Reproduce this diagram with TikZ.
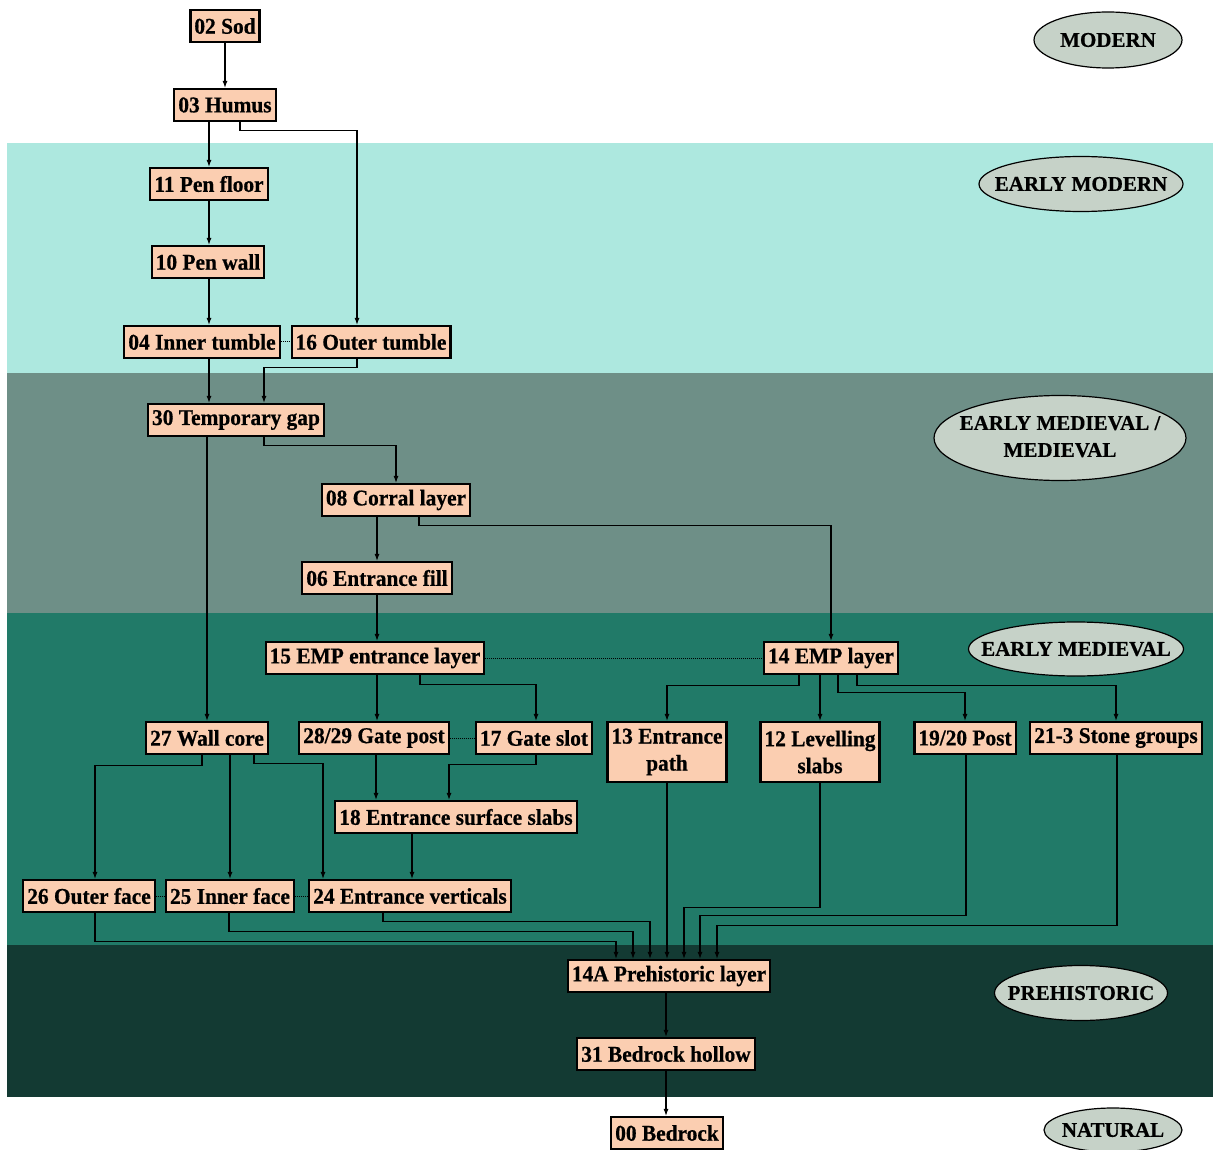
\documentclass[tikz,border=0pt]{standalone}
\usepackage{fontspec}
\newfontfamily\ctxfont{Liberation Serif Bold}[FakeStretch=0.95,FakeBold=0.6]
\newfontfamily\periodfont{Liberation Serif Bold}[FakeBold=0.5]
\usepackage{tikz}
\usetikzlibrary{arrows.meta,positioning,shapes.geometric}
\definecolor{peach}{HTML}{FBCEB1}
\definecolor{ovalgray}{HTML}{C6D2C8}
\definecolor{earlymodband}{HTML}{ADE8DF}
\definecolor{medband}{HTML}{6E8F87}
\definecolor{earlymedband}{HTML}{217A68}
\definecolor{prehistband}{HTML}{133A33}
\newcommand{\nowidth}[1]{\hbox to 0pt{\hss#1\hss}}

\begin{document}
\begin{tikzpicture}[x=1pt,y=-1pt,>={Latex[length=7pt,width=5pt]},
  box/.style={draw,line width=2.2pt,fill=peach,inner xsep=4pt,inner ysep=3pt,
              minimum height=32pt,align=center,
              font=\fontsize{22.5}{27}\ctxfont},
  tallbox/.style={box,minimum height=60pt},
  period/.style={ellipse,draw,line width=1.2pt,fill=ovalgray,inner sep=0pt,
              font=\fontsize{21}{27}\periodfont},
  flow/.style={->,line width=1.1pt},
  link/.style={line width=1pt,densely dotted}]
\useasboundingbox (0,0) rectangle (1213,1150);
% period bands
\fill[earlymodband] (7,143) rectangle (1213,373);
\fill[medband] (7,373) rectangle (1213,613);
\fill[earlymedband] (7,613) rectangle (1213,945);
\fill[prehistband] (7,945) rectangle (1213,1097);
% period labels
\node[period,minimum width=148pt,minimum height=56pt] (modern) at (1108,40) {\nowidth{MODERN}};
\node[period,minimum width=204pt,minimum height=55pt] (earlymod) at (1081,184) {\nowidth{EARLY MODERN}};
\node[period,minimum width=252pt,minimum height=85pt] (medieval) at (1060,438)
  {\nowidth{\begin{tabular}{@{}c@{}}EARLY MEDIEVAL /\\MEDIEVAL\end{tabular}}};
\node[period,minimum width=215pt,minimum height=54pt] (earlymed) at (1076,649) {\nowidth{EARLY MEDIEVAL}};
\node[period,minimum width=173pt,minimum height=55pt] (prehist) at (1081,993) {\nowidth{PREHISTORIC}};
\node[period,minimum width=138pt,minimum height=44pt] (natural) at (1113,1130) {\nowidth{NATURAL}};
% contexts
\node[box] (sod) at (225,26) {02 Sod};
\node[box] (humus) at (225,105) {03 Humus};
\node[box] (penfloor) at (209,184) {11 Pen floor};
\node[box] (penwall) at (208,262) {10 Pen wall};
\node[box] (innertumble) at (202,342) {04 Inner tumble};
\node[box] (outertumble) at (371,342) {16 Outer tumble};
\node[box] (tempgap) at (236,420) {30 Temporary gap};
\node[box] (corral) at (396,500) {08 Corral layer};
\node[box] (entfill) at (377,578) {06 Entrance fill};
\node[box] (empent) at (375,658) {15 EMP entrance layer};
\node[box] (emp) at (831,658) {14 EMP layer};
\node[box] (wallcore) at (207,738) {27 Wall core};
\node[box] (gatepost) at (374,738) {28/29 Gate post};
\node[box] (gateslot) at (534,738) {17 Gate slot};
\node[tallbox] (entpath) at (667,752) {13 Entrance\\path};
\node[tallbox] (levelling) at (820,752) {12 Levelling\\slabs};
\node[box] (post) at (965,738) {19/20 Post};
\node[box] (stones) at (1116,738) {21-3 Stone groups};
\node[box] (surface) at (456,817) {18 Entrance surface slabs};
\node[box] (outerface) at (89,896) {26 Outer face};
\node[box] (innerface) at (230,896) {25 Inner face};
\node[box] (verticals) at (410,896) {24 Entrance verticals};
\node[box] (prehistoric) at (669,976) {14A Prehistoric layer};
\node[box] (hollow) at (666,1054) {31 Bedrock hollow};
\node[box] (bedrock) at (667,1133) {00 Bedrock};
% equivalences
\draw[link] (innertumble) -- (outertumble);
\draw[link] (empent) -- (emp);
\draw[link] (gatepost) -- (gateslot);
\draw[link] (outerface) -- (innerface);
\draw[link] (innerface) -- (verticals);
% stratigraphic links
\draw[flow] (sod) -- (humus);
\draw[flow] (penfloor.north |- humus.south) -- (penfloor.north);
\draw[flow] ([xshift=15pt]humus.south) -- ++(0,8) -| ([xshift=-14pt]outertumble.north);
\draw[flow] (penfloor.south) -- (penfloor.south |- penwall.north);
\draw[flow] (penwall.south -| penfloor.south) -- (penfloor.south |- innertumble.north);
\draw[flow] ([xshift=7pt]innertumble.south) -- ([xshift=7pt]innertumble.south |- tempgap.north);
\draw[flow] ([xshift=-14pt]outertumble.south) -- ++(0,8) -| ([xshift=28pt]tempgap.north);
\draw[flow] ([xshift=28pt]tempgap.south) -- ++(0,8) -| (corral.north);
\draw[flow] (wallcore.north |- tempgap.south) -- (wallcore.north);
\draw[flow] (entfill.north |- corral.south) -- (entfill.north);
\draw[flow] ([xshift=23pt]corral.south) -- ++(0,8) -| (emp.north);
\draw[flow] (entfill.south) -- (entfill.south |- empent.north);
\draw[flow] ([xshift=2pt]empent.south) -- ([xshift=2pt]empent.south |- gatepost.north);
\draw[flow] ([xshift=45pt]empent.south) -- ++(0,9) -| ([xshift=2pt]gateslot.north);
\draw[flow] ([xshift=-32pt]emp.south) -- ++(0,10) -| (entpath.north);
\draw[flow] (levelling.north |- emp.south) -- (levelling.north);
\draw[flow] ([xshift=7pt]emp.south) -- ++(0,17) -| (post.north);
\draw[flow] ([xshift=26pt]emp.south) -- ++(0,10) -| (stones.north);
\draw[flow] ([xshift=-5pt]wallcore.south) -- ++(0,10) -| ([xshift=6pt]outerface.north);
\draw[flow] (innerface.north |- wallcore.south) -- (innerface.north);
\draw[flow] ([xshift=47pt]wallcore.south) -- ++(0,8) -| ([xshift=-87pt]verticals.north);
\draw[flow] ([xshift=2pt]gatepost.south) -- ([xshift=2pt]gatepost.south |- surface.north);
\draw[flow] ([xshift=2pt]gateslot.south) -- ++(0,9) -| ([xshift=-7pt]surface.north);
\draw[flow] ([xshift=-44pt]surface.south) -- ([xshift=-44pt]surface.south |- verticals.north);
\draw[flow] ([xshift=6pt]outerface.south) -- ++(0,28) -| ([xshift=-53pt]prehistoric.north);
\draw[flow] ([xshift=-1pt]innerface.south) -- ++(0,18) -| ([xshift=-36pt]prehistoric.north);
\draw[flow] ([xshift=-27pt]verticals.south) -- ++(0,8) -| ([xshift=-19pt]prehistoric.north);
\draw[flow] (entpath.south) -- (entpath.south |- prehistoric.north);
\draw[flow] (levelling.south) -- ++(0,124) -| ([xshift=15pt]prehistoric.north);
\draw[flow] ([xshift=1pt]post.south) -- ++(0,160) -| ([xshift=31pt]prehistoric.north);
\draw[flow] ([xshift=1pt]stones.south) -- ++(0,170) -| ([xshift=48pt]prehistoric.north);
\draw[flow] (hollow.north |- prehistoric.south) -- (hollow.north);
\draw[flow] (hollow.south) -- (hollow.south |- bedrock.north);
\end{tikzpicture}
\end{document}
